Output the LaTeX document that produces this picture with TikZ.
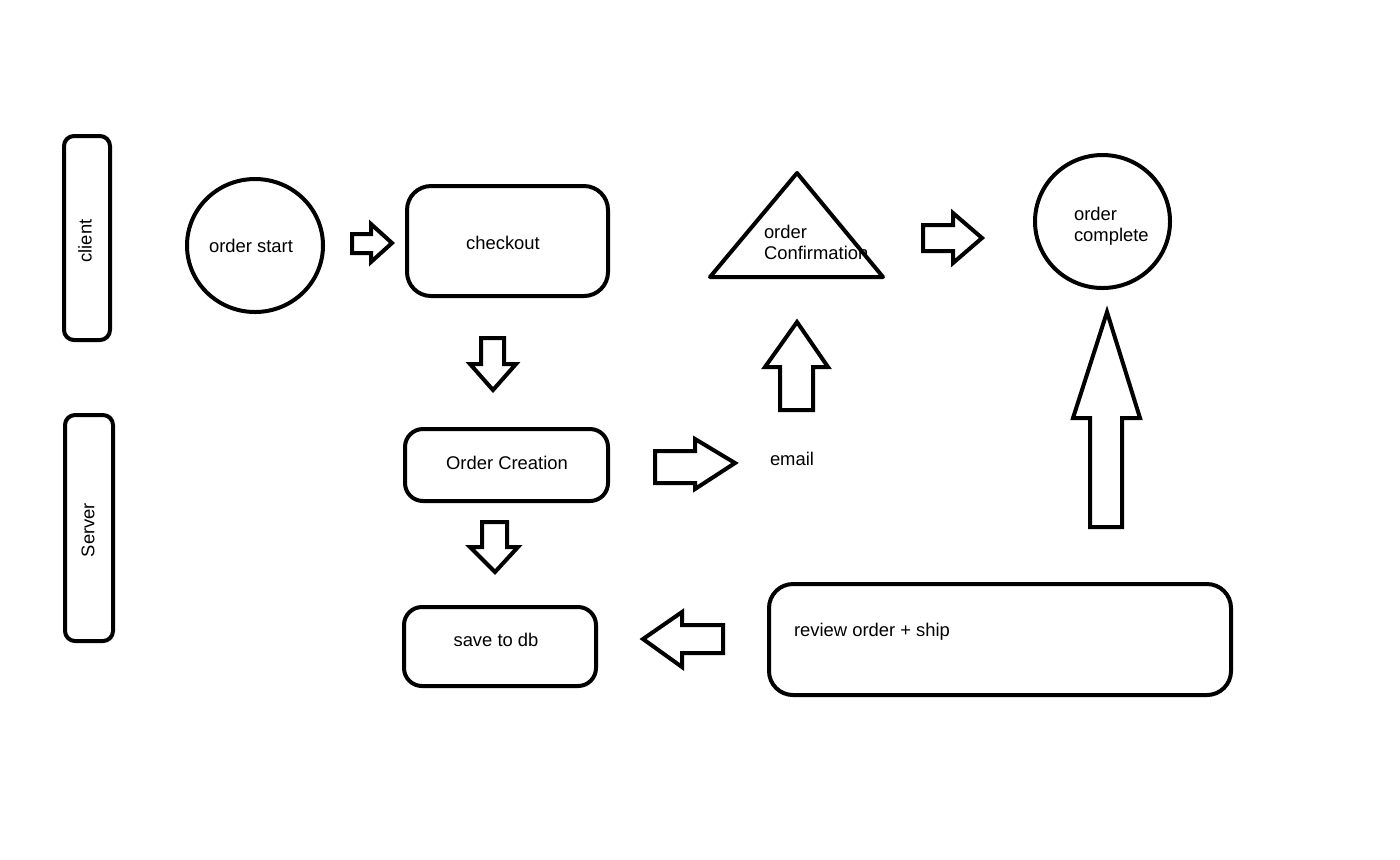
\documentclass[tikz,border=0pt]{standalone}
\usepackage{fontspec}
\setmainfont{Liberation Sans}
\usetikzlibrary{shapes.geometric}
\begin{document}
\begin{tikzpicture}[x=0.5pt,y=-0.5pt,
  line width=2pt, line join=round,
  every node/.style={font=\fontsize{9.2}{10.5}\selectfont, inner sep=0pt},
  lane/.style={draw, rounded corners=5pt, line width=2pt},
  stepbox/.style={draw, rounded corners=#1, line width=2pt},
  stepbox/.default=12pt,
  round/.style={draw, ellipse, line width=2pt},
  label/.style={align=left},
  blockarrow/.style={draw, line width=2pt, line join=miter, fill=white}]
  % canvas
  \useasboundingbox (0,0) rectangle (1400,859);

  % swim lanes
  \node[lane, minimum width=23pt, minimum height=102pt] (client) at (87,238) {};
  \node[rotate=90] (clientlbl) at (85,241) {client};
  \node[lane, minimum width=24pt, minimum height=113pt] (server) at (89,528) {};
  \node[rotate=90] (serverlbl) at (88,530) {Server};

  % client steps
  \node[round, minimum width=68pt, minimum height=66.5pt] (start) at (255,245.5) {};
  \node (startlbl) at (251,246) {order start};
  \node[stepbox=12pt, minimum width=100.5pt, minimum height=55pt] (checkout) at (507.5,241) {};
  \node (checkoutlbl) at (503,243) {checkout};

  \coordinate (tA) at (797,173);
  \coordinate (tL) at (710,277);
  \coordinate (tR) at (883,277);
  \draw (tA) -- (tR) -- (tL) -- cycle;
  \node[label, anchor=west] (confirmlbl) at (762,242) {order\\Confirmation};

  \node[round, minimum width=67.5pt, minimum height=66.5pt] (complete) at (1102.5,221.5) {};
  \node[label, anchor=west] (completelbl) at (1072,226.5) {order\\complete};

  % server steps
  \node[stepbox=9pt, minimum width=101.5pt, minimum height=36pt] (creation) at (506.5,465) {};
  \node (creationlbl) at (507,463) {Order Creation};
  \node[anchor=west] (email) at (768,459) {email};
  \node[stepbox=9pt, minimum width=96pt, minimum height=39.5pt] (savedb) at (500,646.5) {};
  \node (savedblbl) at (496,640) {save to db};
  \node[stepbox=12pt, minimum width=231pt, minimum height=55.5pt] (review) at (1000,639.5) {};
  \node[anchor=west] (reviewlbl) at (792,632) {review order + ship};

  % block arrows between steps
  % order start -> checkout
  \draw[blockarrow] (352,234) -- (371,234) -- (371,224) -- (392,243) -- (371,262) -- (371,253) -- (352,253) -- cycle;
  % checkout -> order creation
  \draw[blockarrow] (481,338) -- (504,338) -- (504,364) -- (516,364) -- (493,390) -- (470,364) -- (481,364) -- cycle;
  % email -> order confirmation
  \draw[blockarrow] (780,410) -- (813,410) -- (813,367) -- (828,367) -- (797,322) -- (765,367) -- (780,367) -- cycle;
  % order confirmation -> order complete
  \draw[blockarrow] (923,225) -- (953,225) -- (953,213) -- (982,238) -- (953,263) -- (953,251) -- (923,251) -- cycle;
  % review order + ship -> order complete
  \draw[blockarrow] (1090,527) -- (1122,527) -- (1122,418) -- (1140,418) -- (1107,312) -- (1073,418) -- (1090,418) -- cycle;
  % order creation -> email
  \draw[blockarrow] (655,451) -- (695,451) -- (695,439) -- (735,463) -- (695,489) -- (695,483) -- (655,483) -- cycle;
  % order creation -> save to db
  \draw[blockarrow] (482,522) -- (507,522) -- (507,547) -- (518,547) -- (495,572) -- (470,547) -- (482,547) -- cycle;
  % review order + ship -> save to db
  \draw[blockarrow] (723,625) -- (682,625) -- (682,612) -- (643,639) -- (682,667) -- (682,653) -- (723,653) -- cycle;
\end{tikzpicture}
\end{document}
